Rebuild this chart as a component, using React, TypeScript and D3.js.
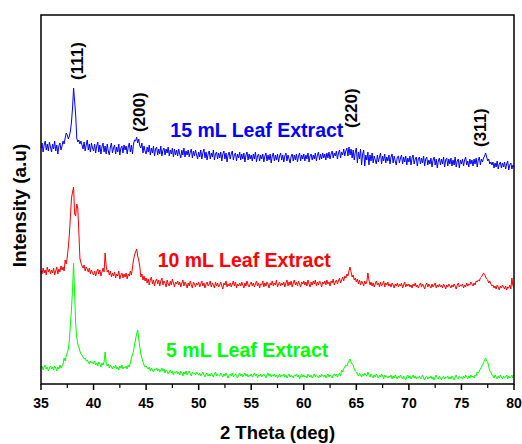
import React from "react";
import * as d3 from "d3";

// 2θ grid: 35.0 .. 80.0 in 0.1° steps (451 points)
const thetaStart = 35;
const thetaStep = 0.1;

// Intensities (a.u.), one row per degree (x.0 .. x.9)
const blue15 = [
  236, 241, 232, 239, 243, 234, 240, 233, 242, 237,
  232, 240, 235, 243, 233, 239, 230, 238, 241, 234,
  238, 243, 240, 246, 251, 249, 245, 248, 253, 262,
  276, 296, 283, 269, 246, 242, 244, 240, 243, 239,
  235, 242, 233, 239, 244, 234, 240, 232, 241, 236,
  233, 240, 231, 238, 242, 232, 239, 230, 237, 241,
  232, 238, 230, 240, 233, 229, 237, 241, 231, 236,
  239, 230, 237, 232, 240, 229, 236, 238, 231, 239,
  234, 238, 230, 237, 241, 232, 239, 230, 240, 244,
  243, 247, 241, 245, 238, 236, 241, 231, 238, 233,
  230, 237, 232, 239, 229, 236, 231, 238, 228, 235,
  237, 229, 235, 230, 238, 228, 234, 236, 229, 235,
  231, 237, 228, 234, 230, 236, 227, 235, 229, 234,
  228, 235, 230, 226, 234, 229, 236, 227, 233, 229,
  234, 227, 232, 235, 226, 233, 228, 234, 229, 225,
  232, 227, 234, 225, 231, 235, 226, 232, 224, 230,
  233, 225, 231, 227, 234, 224, 230, 232, 225, 231,
  226, 232, 223, 230, 233, 225, 231, 222, 229, 232,
  225, 230, 233, 224, 229, 231, 223, 230, 226, 232,
  224, 230, 225, 231, 222, 229, 232, 224, 230, 225,
  229, 223, 230, 225, 232, 222, 228, 230, 223, 229,
  225, 230, 222, 228, 231, 223, 229, 224, 230, 221,
  228, 231, 223, 229, 224, 230, 222, 228, 231, 224,
  229, 222, 228, 231, 223, 229, 225, 221, 228, 230,
  223, 229, 224, 230, 222, 228, 231, 223, 229, 225,
  230, 223, 229, 225, 231, 222, 228, 230, 224, 229,
  225, 231, 223, 229, 232, 224, 230, 225, 231, 226,
  230, 224, 231, 226, 232, 225, 230, 233, 226, 231,
  228, 233, 225, 231, 234, 226, 232, 229, 235, 228,
  233, 236, 228, 237, 229, 235, 226, 234, 224, 232,
  236, 221, 232, 225, 235, 219, 230, 234, 218, 229,
  224, 232, 219, 229, 223, 231, 221, 228, 224, 220,
  229, 222, 227, 231, 220, 228, 223, 230, 221, 227,
  223, 229, 220, 227, 230, 221, 228, 223, 219, 227,
  228, 221, 226, 229, 220, 227, 222, 228, 219, 226,
  222, 228, 219, 226, 229, 220, 225, 227, 218, 225,
  227, 220, 226, 221, 228, 218, 225, 227, 219, 224,
  220, 226, 217, 224, 227, 219, 225, 216, 223, 226,
  219, 225, 220, 227, 217, 224, 226, 218, 225, 220,
  226, 218, 224, 219, 227, 217, 223, 225, 216, 224,
  220, 225, 218, 224, 227, 219, 223, 217, 225, 220,
  224, 218, 225, 220, 226, 217, 224, 227, 219, 225,
  222, 226, 228, 231, 227, 223, 225, 220, 222, 219,
  222, 216, 221, 217, 223, 215, 220, 222, 216, 221,
  217, 222, 215, 220, 223, 214, 219, 221, 215, 219,
  217,
];

const red10 = [
  113, 110, 116, 111, 114, 109, 117, 112, 115, 110,
  114, 111, 116, 109, 113, 117, 110, 115, 112, 118,
  114, 117, 113, 124, 120, 127, 137, 150, 168, 186,
  192, 197, 170, 168, 180, 176, 152, 126, 121, 118,
  116, 119, 113, 117, 115, 112, 116, 110, 114, 111,
  109, 113, 108, 112, 115, 110, 114, 108, 112, 116,
  112, 131, 118, 112, 114, 109, 113, 107, 111, 108,
  112, 106, 110, 108, 113, 105, 109, 111, 106, 110,
  107, 111, 105, 110, 108, 113, 109, 116, 124, 129,
  132, 135, 128, 124, 117, 107, 110, 104, 108, 103,
  106, 101, 105, 99, 104, 107, 100, 104, 98, 103,
  105, 100, 104, 98, 103, 106, 99, 103, 101, 97,
  104, 100, 98, 103, 99, 105, 101, 97, 102, 100,
  103, 99, 102, 97, 101, 104, 98, 102, 100, 96,
  101, 98, 103, 99, 96, 102, 100, 97, 101, 99,
  102, 97, 100, 103, 98, 101, 96, 100, 102, 98,
  100, 103, 97, 101, 99, 96, 102, 98, 101, 97,
  99, 102, 98, 95, 101, 99, 103, 97, 100, 98,
  101, 97, 100, 103, 98, 102, 96, 100, 98, 101,
  98, 102, 99, 96, 101, 98, 103, 99, 97, 100,
  102, 98, 101, 97, 100, 103, 98, 101, 96, 100,
  99, 103, 97, 101, 98, 102, 100, 96, 101, 99,
  103, 98, 101, 99, 104, 97, 100, 102, 98, 101,
  99, 102, 97, 101, 104, 98, 102, 99, 103, 97,
  101, 104, 99, 102, 98, 103, 100, 97, 102, 100,
  103, 99, 102, 98, 104, 100, 97, 102, 99, 103,
  100, 104, 98, 102, 99, 103, 101, 97, 102, 100,
  103, 99, 104, 100, 102, 98, 103, 101, 105, 99,
  102, 104, 100, 103, 106, 101, 104, 107, 103, 108,
  106, 110, 108, 113, 117, 112, 107, 109, 104, 106,
  102, 105, 100, 104, 99, 103, 101, 98, 103, 100,
  102, 111, 104, 99, 102, 98, 101, 97, 100, 103,
  99, 101, 97, 102, 98, 100, 103, 97, 101, 99,
  102, 98, 100, 97, 101, 99, 96, 100, 98, 101,
  97, 100, 98, 101, 96, 99, 102, 97, 100, 98,
  100, 97, 99, 96, 100, 98, 101, 97, 99, 96,
  99, 101, 97, 100, 98, 95, 99, 101, 97, 100,
  98, 96, 100, 97, 99, 101, 96, 99, 97, 100,
  97, 99, 96, 100, 98, 95, 99, 97, 100, 98,
  96, 99, 97, 100, 98, 95, 99, 101, 97, 99,
  98, 100, 96, 99, 97, 101, 98, 100, 99, 102,
  100, 98, 101, 99, 103, 102, 104, 103, 106, 107,
  109, 111, 110, 107, 105, 104, 101, 103, 100, 98,
  99, 96, 98, 95, 99, 97, 94, 98, 96, 99,
  97, 95, 98, 94, 97, 96, 99, 95, 106, 98,
  97,
];

const green5 = [
  16, 18, 14, 17, 19, 15, 17, 13, 16, 18,
  15, 17, 14, 18, 16, 13, 17, 15, 19, 16,
  18, 20, 26, 23, 28, 31, 35, 44, 60, 75,
  94, 121, 90, 60, 47, 40, 37, 33, 30, 29,
  27, 25, 26, 23, 24, 22, 20, 23, 21, 22,
  20, 23, 19, 21, 18, 22, 20, 17, 21, 19,
  22, 32, 22, 18, 20, 16, 19, 17, 15, 18,
  16, 19, 15, 17, 14, 18, 16, 19, 15, 17,
  16, 18, 15, 19, 17, 21, 26, 29, 33, 39,
  45, 50, 54, 45, 37, 30, 26, 22, 19, 17,
  18, 16, 15, 17, 13, 16, 14, 12, 15, 14,
  16, 13, 15, 12, 14, 16, 13, 15, 11, 14,
  13, 10, 12, 14, 11, 13, 9, 12, 11, 13,
  10, 12, 9, 13, 11, 8, 12, 10, 13, 9,
  11, 13, 10, 8, 12, 10, 11, 9, 12, 10,
  9, 11, 8, 10, 12, 9, 7, 10, 11, 8,
  10, 8, 11, 9, 7, 10, 12, 8, 10, 9,
  8, 11, 9, 7, 10, 8, 11, 9, 6, 9,
  10, 8, 11, 7, 9, 10, 8, 6, 9, 11,
  8, 10, 7, 9, 11, 8, 10, 7, 9, 8,
  10, 7, 9, 11, 8, 10, 6, 9, 8, 10,
  7, 9, 10, 8, 6, 9, 11, 8, 10, 7,
  9, 8, 10, 7, 9, 6, 8, 10, 7, 9,
  8, 10, 7, 9, 6, 8, 10, 7, 9, 8,
  6, 9, 8, 10, 7, 9, 5, 8, 10, 7,
  9, 7, 8, 6, 10, 8, 7, 9, 6, 8,
  10, 7, 9, 8, 6, 9, 7, 10, 8, 7,
  9, 6, 8, 10, 7, 9, 8, 6, 9, 10,
  8, 10, 7, 9, 11, 8, 14, 12, 15, 17,
  19, 18, 21, 23, 25, 22, 20, 19, 15, 13,
  12, 10, 8, 11, 9, 7, 10, 8, 11, 9,
  8, 12, 9, 7, 10, 8, 6, 9, 7, 10,
  8, 6, 9, 7, 10, 8, 5, 9, 7, 8,
  6, 8, 7, 9, 5, 8, 6, 9, 7, 5,
  8, 6, 9, 7, 5, 8, 6, 4, 7, 9,
  6, 8, 5, 7, 9, 6, 8, 5, 7, 6,
  8, 5, 7, 9, 6, 4, 7, 8, 5, 7,
  6, 8, 5, 7, 4, 7, 9, 6, 5, 8,
  6, 4, 7, 8, 5, 7, 6, 8, 5, 7,
  5, 8, 6, 4, 7, 9, 6, 5, 8, 6,
  7, 5, 8, 6, 9, 7, 5, 8, 6, 9,
  7, 8, 6, 9, 8, 12, 11, 13, 15, 17,
  19, 21, 24, 26, 23, 22, 17, 13, 12, 9,
  8, 6, 9, 7, 5, 8, 6, 9, 7, 5,
  8, 6, 7, 9, 5, 8, 6, 7, 9, 6,
  9,
];

const seriesNames = ["15 mL Leaf Extract", "10 mL Leaf Extract", "5 mL Leaf Extract"];
const seriesColors = ["#0000ff", "#ff0000", "#00ff00"];
const seriesData = [blue15, red10, green5];
// label anchor (2θ, intensity) for each series label
const seriesLabelTheta = [47.3, 46.1, 46.9];
const seriesLabelLevel = [247, 117, 27];

const peakLabels = ["(111)", "(200)", "(220)", "(311)"];
const peakTheta = [38.4, 44.3, 64.5, 76.8];
const peakLevel = [304, 252, 256, 237];

const xTicks = [35, 40, 45, 50, 55, 60, 65, 70, 75, 80];
const xMinorTicks = [37.5, 42.5, 47.5, 52.5, 57.5, 62.5, 67.5, 72.5, 77.5];

const W = 522;
const H = 444;
const M = { left: 41, right: 514, top: 15, bottom: 384 };
const FONT = "'Liberation Sans', Arial, sans-serif";

export default function App() {
  const x = d3.scaleLinear().domain([35, 80]).range([M.left, M.right]);
  const y = d3.scaleLinear().domain([0, 369]).range([M.bottom, M.top]);
  const theta = (i: number) => thetaStart + i * thetaStep;
  const line = d3
    .line<number>()
    .x((_, i) => x(theta(i)))
    .y((d) => y(d));

  return (
    <svg
      width={W}
      height={H}
      style={{ position: "absolute", left: 0, top: 0, background: "#fff" }}
      fontFamily={FONT}
    >
      {seriesData.map((s, k) => (
        <path
          key={k}
          d={line(s) || ""}
          fill="none"
          stroke={seriesColors[k]}
          strokeWidth={1}
          strokeLinejoin="round"
        />
      ))}
      <rect
        x={M.left}
        y={M.top}
        width={M.right - M.left}
        height={M.bottom - M.top}
        fill="none"
        stroke="#000"
        strokeWidth={1.5}
      />
      {xTicks.map((t) => (
        <g key={t}>
          <line x1={x(t)} x2={x(t)} y1={M.bottom} y2={M.bottom + 6} stroke="#000" strokeWidth={1.5} />
          <text
            x={x(t)}
            y={408}
            textAnchor="middle"
            fontSize={14}
            fontWeight="bold"
            fill="#000"
          >
            {t}
          </text>
        </g>
      ))}
      {xMinorTicks.map((t) => (
        <line key={t} x1={x(t)} x2={x(t)} y1={M.bottom} y2={M.bottom + 4} stroke="#000" strokeWidth={1.2} />
      ))}
      {peakLabels.map((p, k) => (
        <text
          key={p}
          transform={`translate(${x(peakTheta[k])},${y(peakLevel[k])}) rotate(-90)`}
          dy="0.35em"
          fontSize={17}
          fontWeight="bold"
          fill="#000"
        >
          {p}
        </text>
      ))}
      {seriesNames.map((n, k) => (
        <text
          key={n}
          x={x(seriesLabelTheta[k])}
          y={y(seriesLabelLevel[k])}
          fontSize={19.5}
          fontWeight="bold"
          fill={seriesColors[k]}
        >
          {n}
        </text>
      ))}
      <text
        x={(M.left + M.right) / 2}
        y={439}
        textAnchor="middle"
        fontSize={18.5}
        fontWeight="bold"
        fill="#000"
      >
        2 Theta (deg)
      </text>
      <text
        transform={`translate(26,${(M.top + M.bottom) / 2 + 6}) rotate(-90)`}
        textAnchor="middle"
        fontSize={19}
        fontWeight="bold"
        fill="#000"
      >
        Intensity (a.u)
      </text>
    </svg>
  );
}
